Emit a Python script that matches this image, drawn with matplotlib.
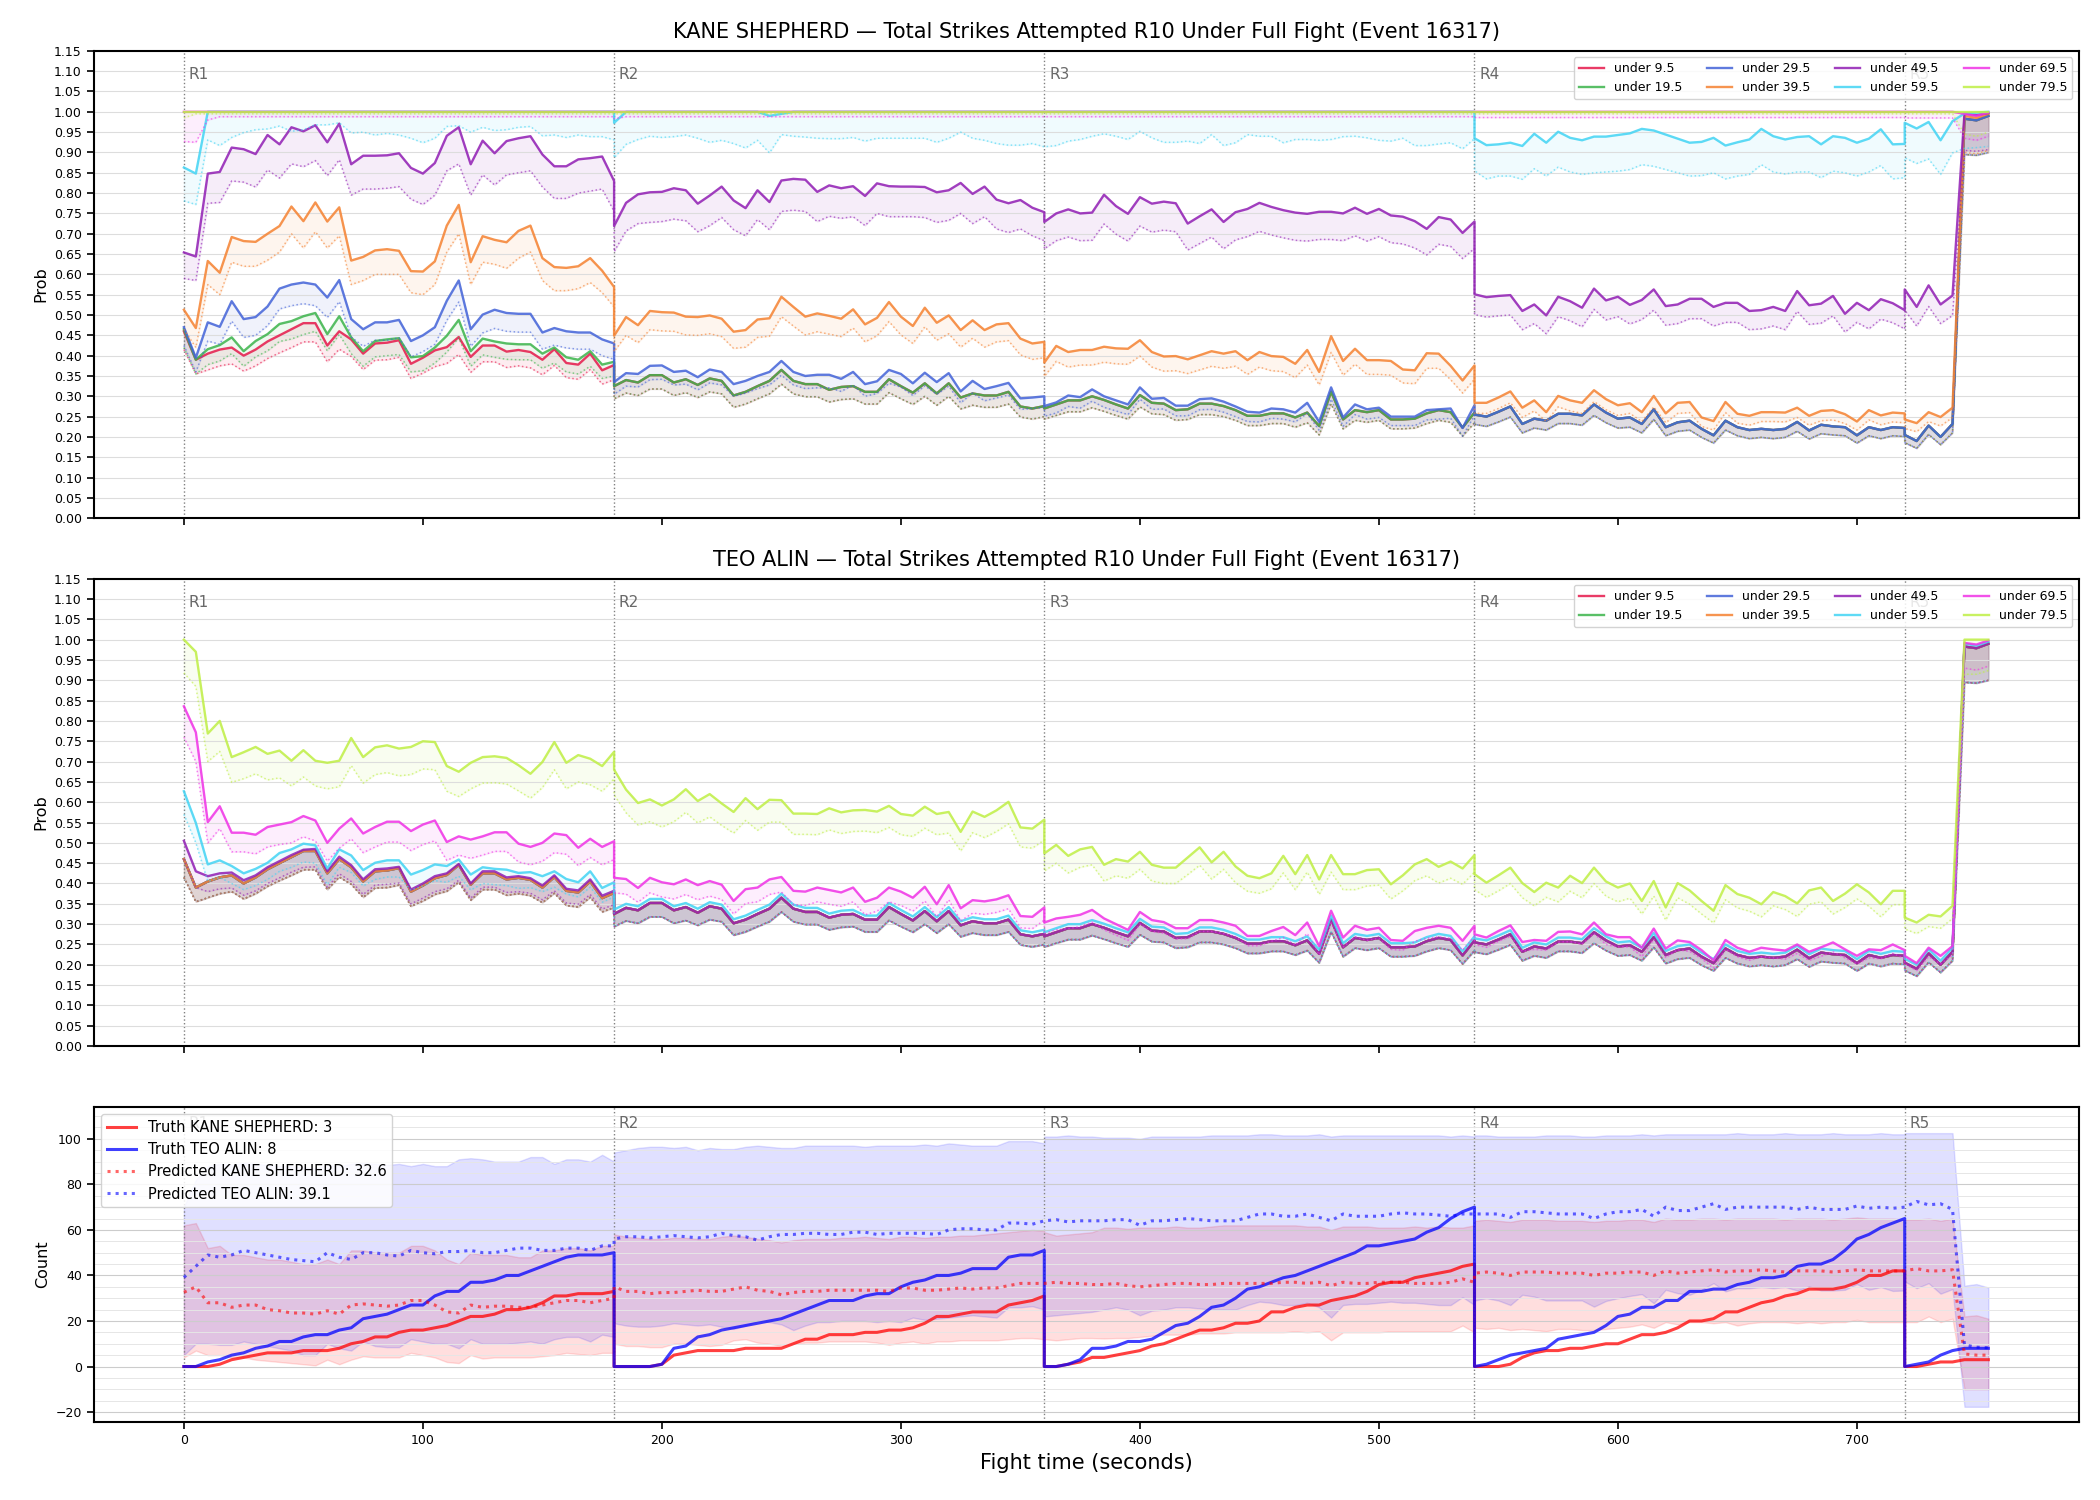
import numpy as np
import matplotlib.pyplot as plt
from matplotlib.ticker import MultipleLocator, FormatStrFormatter

kane = "KANE SHEPHERD"
teo = "TEO ALIN"
event = 16317

# 5 s samples, each round re-starts on the boundary second (hence the vertical jumps)
round_starts = [0, 180, 360, 540, 720]
round_ends = [180, 360, 540, 720, 755]
t = np.concatenate([np.arange(a, b + 1, 5) for a, b in zip(round_starts, round_ends)])

line_labels = ["under 9.5", "under 19.5", "under 29.5", "under 39.5",
               "under 49.5", "under 59.5", "under 69.5", "under 79.5"]
line_colors = ["#e6194b", "#3cb44b", "#4363d8", "#f58231",
               "#911eb4", "#42d4f4", "#f032e6", "#bfef45"]


def flat(rounds):
    return np.concatenate([np.asarray(r, dtype=float) for r in rounds])


# ---- probability lines, one list per round (R1..R5) ----
# under 9.5 -- same curve in both panels; TEO's 19.5-49.5 sit on it too
base_hi = [
    [.46, .39, .405, .415, .42, .40, .415, .435, .45, .465, .48, .48, .425, .46, .44, .405, .43, .432, .438,
     .38, .395, .413, .421, .446, .397, .425, .425, .41, .414, .409, .39, .416, .382, .378, .405, .364, .377],
    [.325, .34, .334, .352, .352, .334, .342, .328, .344, .338, .302, .311, .325, .338, .365, .338, .33, .33,
     .316, .323, .325, .311, .311, .342, .325, .309, .332, .307, .332, .297, .307, .302, .302, .311, .275, .27, .276],
    [.27, .28, .29, .29, .30, .291, .28, .27, .303, .284, .282, .266, .268, .282, .282, .276, .266, .252, .252,
     .258, .258, .248, .26, .227, .311, .243, .266, .261, .266, .243, .243, .245, .258, .266, .261, .223, .26],
    [.255, .25, .262, .275, .232, .245, .24, .257, .257, .253, .28, .26, .245, .248, .232, .268, .224, .236, .24,
     .22, .204, .24, .224, .217, .22, .217, .22, .237, .216, .23, .226, .224, .204, .224, .217, .224, .222],
    [.205, .19, .228, .2, .232, .983, .979, .99],
]
base_lo = [
    [.415, .355, .365, .375, .38, .362, .375, .393, .407, .42, .434, .434, .385, .416, .398, .366, .389, .39, .396,
     .344, .357, .373, .381, .403, .359, .385, .385, .371, .375, .37, .353, .376, .346, .342, .366, .33, .341],
    [.294, .308, .302, .318, .318, .302, .309, .297, .311, .306, .273, .281, .294, .306, .33, .306, .299, .299,
     .286, .292, .294, .281, .281, .309, .294, .28, .3, .278, .3, .269, .278, .273, .273, .281, .249, .244, .25],
    [.244, .253, .262, .262, .272, .263, .253, .244, .274, .257, .255, .241, .243, .255, .255, .25, .241, .228,
     .228, .233, .233, .224, .235, .205, .281, .22, .241, .236, .241, .22, .22, .222, .233, .241, .236, .202, .235],
    [.231, .226, .237, .249, .21, .222, .217, .233, .233, .229, .253, .235, .222, .224, .21, .243, .203, .214,
     .217, .199, .185, .217, .203, .196, .199, .196, .199, .214, .195, .208, .205, .203, .185, .203, .196, .203, .201],
    [.186, .172, .206, .181, .21, .895, .893, .9],
]

# KANE under 19.5: apart from R1 it lies on the 9.5 curve
k195_hi_r1 = [.465, .39, .416, .426, .445, .411, .436, .453, .478, .485, .497, .505, .453, .497, .445, .411, .436,
              .44, .443, .396, .399, .42, .449, .488, .411, .442, .435, .43, .428, .428, .405, .42, .396, .39,
              .411, .378, .385]
k195_lo_r1 = [.42, .355, .378, .387, .405, .374, .397, .412, .435, .441, .452, .46, .412, .452, .405, .374, .397,
              .40, .403, .36, .363, .382, .409, .444, .374, .402, .396, .391, .39, .39, .369, .382, .36, .355,
              .374, .344, .35]

# KANE under 29.5: R1-R3 read, R4-R5 on the 9.5 curve
k295_hi = [
    [.47, .395, .482, .471, .534, .49, .495, .521, .565, .575, .58, .575, .543, .586, .49, .465, .482, .482, .488,
     .436, .45, .47, .535, .585, .465, .501, .513, .505, .503, .503, .457, .468, .46, .457, .457, .44, .43],
    [.335, .357, .355, .375, .376, .36, .363, .347, .366, .36, .33, .338, .35, .36, .387, .36, .35, .353, .353,
     .343, .36, .33, .337, .365, .355, .332, .358, .335, .357, .312, .338, .318, .325, .333, .295, .297, .30],
    [.276, .285, .302, .298, .317, .30, .29, .28, .322, .294, .296, .277, .277, .293, .295, .287, .275, .262, .26,
     .27, .268, .26, .284, .237, .322, .248, .28, .268, .272, .25, .25, .25, .266, .268, .27, .222, .278],
]
k295_lo = [
    [.425, .36, .436, .428, .485, .445, .45, .474, .515, .523, .528, .523, .494, .533, .446, .423, .438, .438,
     .444, .397, .41, .428, .487, .532, .423, .456, .467, .46, .458, .458, .416, .426, .419, .416, .416, .40, .391],
    [.305, .325, .323, .341, .342, .328, .33, .316, .333, .328, .30, .308, .319, .328, .352, .328, .319, .321,
     .321, .312, .328, .30, .307, .332, .323, .302, .326, .305, .325, .284, .308, .289, .296, .303, .268, .27, .273],
    [.251, .259, .275, .271, .288, .273, .264, .255, .293, .268, .269, .252, .252, .267, .268, .261, .25, .238,
     .237, .246, .244, .237, .258, .216, .293, .226, .255, .244, .248, .228, .228, .228, .242, .244, .246, .202, .253],
]

k395_hi = [
    [.513, .468, .633, .604, .692, .682, .68, .70, .719, .767, .731, .777, .73, .765, .634, .643, .659, .662, .658,
     .608, .607, .632, .72, .771, .63, .694, .685, .679, .707, .72, .64, .618, .616, .62, .64, .609, .569],
    [.449, .495, .475, .51, .507, .506, .496, .495, .499, .491, .459, .463, .489, .492, .545, .52, .496, .504,
     .498, .491, .514, .477, .493, .532, .496, .473, .518, .481, .499, .463, .487, .463, .477, .48, .442, .43, .434],
    [.383, .424, .409, .414, .414, .422, .418, .417, .438, .409, .398, .399, .391, .401, .411, .405, .411, .389,
     .409, .399, .397, .38, .414, .36, .448, .387, .417, .389, .389, .387, .366, .364, .406, .405, .375, .339, .376],
    [.284, .284, .297, .312, .272, .29, .261, .301, .29, .284, .315, .293, .278, .283, .261, .301, .258, .284,
     .286, .248, .239, .286, .257, .252, .261, .261, .26, .272, .252, .264, .266, .256, .238, .266, .253, .26, .258],
    [.243, .234, .261, .249, .272, .99, .985, .995],
]
k395_lo = [
    [.465, .42, .575, .55, .63, .62, .62, .635, .655, .70, .665, .705, .665, .695, .575, .585, .60, .60, .60,
     .555, .55, .575, .655, .70, .575, .63, .625, .615, .64, .655, .585, .56, .56, .565, .58, .555, .52],
    [.41, .45, .432, .464, .461, .46, .451, .45, .454, .447, .418, .421, .445, .448, .496, .473, .451, .459,
     .453, .447, .468, .434, .449, .484, .451, .43, .471, .438, .454, .421, .443, .421, .434, .437, .402, .391, .395],
    [.349, .386, .372, .377, .377, .384, .38, .379, .399, .372, .362, .363, .356, .365, .374, .369, .374, .354,
     .372, .363, .361, .346, .377, .328, .408, .352, .379, .354, .354, .352, .333, .331, .369, .369, .341, .308, .342],
    [.258, .258, .27, .284, .248, .264, .238, .274, .264, .258, .287, .267, .253, .258, .238, .274, .235, .258,
     .26, .226, .217, .26, .234, .229, .238, .238, .237, .248, .229, .24, .242, .233, .217, .242, .23, .237, .235],
    [.221, .213, .238, .227, .248, .90, .897, .905],
]

k495_hi = [
    [.654, .644, .848, .852, .912, .908, .896, .943, .92, .962, .952, .967, .925, .971, .871, .892, .892, .893,
     .898, .862, .848, .874, .941, .962, .871, .929, .898, .928, .935, .94, .895, .866, .866, .883, .886, .89, .83],
    [.719, .776, .797, .802, .803, .812, .807, .774, .794, .816, .782, .763, .807, .778, .831, .835, .833, .803,
     .819, .812, .817, .793, .824, .817, .816, .816, .815, .802, .807, .825, .798, .816, .784, .775, .783, .764, .753],
    [.729, .75, .76, .75, .752, .796, .768, .749, .79, .774, .779, .775, .725, .743, .76, .729, .753, .761, .776,
     .766, .758, .752, .749, .754, .754, .75, .764, .749, .761, .745, .742, .731, .712, .741, .735, .702, .73],
    [.551, .544, .547, .549, .51, .526, .499, .545, .534, .518, .565, .536, .545, .525, .537, .563, .522, .526,
     .54, .54, .52, .53, .53, .51, .512, .52, .51, .559, .524, .528, .547, .503, .53, .512, .539, .529, .512],
    [.563, .52, .573, .526, .548, .996, .992, .997],
]
k495_lo = [
    [.59, .585, .775, .777, .83, .827, .815, .857, .837, .872, .865, .88, .843, .882, .795, .81, .81, .812, .816,
     .785, .772, .795, .855, .872, .795, .845, .82, .845, .85, .855, .815, .787, .787, .80, .805, .81, .755],
    [.656, .707, .725, .728, .73, .736, .732, .705, .72, .74, .71, .695, .735, .71, .755, .758, .755, .73, .743,
     .738, .742, .72, .75, .742, .742, .742, .74, .728, .733, .75, .725, .742, .712, .703, .712, .695, .683],
    [.663, .683, .692, .683, .684, .724, .699, .682, .719, .704, .709, .705, .66, .676, .692, .663, .685, .693,
     .706, .697, .69, .684, .682, .686, .686, .683, .695, .682, .693, .678, .675, .665, .648, .674, .669, .639, .664],
    [.501, .495, .498, .50, .464, .479, .454, .496, .486, .471, .514, .488, .496, .478, .489, .512, .475, .479,
     .491, .491, .473, .482, .482, .464, .466, .473, .464, .509, .477, .48, .498, .458, .482, .466, .49, .481, .466],
    [.512, .473, .521, .479, .499, .905, .903, .907],
]

k595_hi = [
    [.863, .848] + [1.0] * 35,
    [.973] + [1.0] * 12 + [.99, .995] + [1.0] * 22,
    [1.0] * 37,
    [.935, .918, .92, .924, .916, .946, .924, .951, .936, .93, .939, .939, .943, .947, .958, .954, .944, .934,
     .924, .926, .936, .917, .925, .932, .958, .94, .932, .938, .94, .92, .94, .936, .924, .934, .957, .92, .921],
    [.973, .959, .975, .93, .977, .996, .998, 1.0],
]
k595_lo = [
    [.781, .772, .931, .917, .937, .949, .956, .958, .965, .952, .956, .968, .968, .973, .948, .95, .943, .947,
     .943, .935, .924, .935, .964, .966, .95, .962, .954, .956, .962, .964, .941, .943, .937, .943, .939, .939, .931],
    [.887, .92, .932, .94, .937, .939, .943, .935, .925, .93, .922, .911, .93, .899, .944, .94, .938, .935, .934,
     .934, .937, .928, .935, .935, .935, .935, .935, .925, .935, .95, .935, .93, .922, .918, .918, .922, .914],
    [.914, .917, .928, .932, .94, .946, .94, .932, .952, .936, .925, .925, .928, .922, .944, .917, .924, .944,
     .94, .94, .924, .932, .932, .93, .932, .939, .94, .936, .93, .928, .935, .917, .917, .921, .924, .909, .934],
    [.855, .835, .842, .842, .834, .86, .842, .864, .852, .846, .85, .852, .854, .858, .87, .866, .858, .85,
     .842, .843, .85, .835, .842, .846, .87, .852, .847, .852, .852, .838, .854, .85, .842, .852, .868, .835, .838],
    [.887, .873, .884, .846, .899, .91, .912, .915],
]

k695_hi = [[1.0] * 37, [1.0] * 37, [1.0] * 37, [1.0] * 37, [1.0] * 5 + [.995, .99, .998]]
k695_lo = [[.927, .925, .98] + [.988] * 34, [.983] + [.988] * 36, [.988] * 37, [.986] * 37,
           [.985] * 5 + [.935, .93, .94]]
k795_hi = [[1.0] * 37, [1.0] * 37, [1.0] * 37, [1.0] * 37, [1.0] * 8]
k795_lo = [[.985] + [.995] * 36, [.995] * 37, [.995] * 37, [.995] * 37, [.995] * 5 + [.945, .94, .95]]

# TEO under 49.5: own R1, then on the 9.5 curve
t495_hi_r1 = [.505, .43, .418, .425, .427, .408, .42, .44, .455, .47, .483, .485, .43, .466, .445, .41, .435,
              .437, .441, .385, .40, .418, .425, .448, .40, .43, .43, .415, .418, .413, .395, .42, .387, .383,
              .41, .37, .382]
t495_lo_r1 = [.46, .39, .38, .387, .389, .371, .382, .40, .414, .428, .44, .441, .391, .424, .405, .373, .396,
              .398, .401, .35, .364, .38, .387, .408, .364, .391, .391, .378, .38, .376, .36, .382, .352, .349,
              .373, .337, .348]

t595_hi = [
    [.627, .549, .447, .457, .443, .425, .436, .451, .475, .484, .498, .494, .437, .484, .469, .433, .451, .457,
     .457, .422, .433, .447, .443, .459, .422, .44, .436, .434, .426, .428, .418, .43, .411, .403, .43, .389, .403],
    [.336, .35, .344, .362, .362, .344, .352, .338, .354, .348, .312, .321, .335, .348, .375, .348, .34, .34,
     .326, .333, .335, .321, .321, .352, .335, .319, .342, .317, .342, .307, .317, .312, .312, .321, .285, .28, .286],
    [.28, .29, .30, .30, .31, .301, .29, .28, .313, .294, .292, .276, .278, .292, .292, .286, .276, .262, .262,
     .268, .268, .258, .27, .237, .321, .253, .276, .271, .276, .253, .253, .255, .268, .276, .271, .233, .27],
    [.265, .26, .272, .285, .242, .255, .25, .267, .267, .263, .29, .27, .255, .258, .242, .278, .234, .246,
     .25, .23, .214, .25, .234, .227, .23, .227, .23, .247, .226, .24, .236, .234, .214, .234, .227, .234, .232],
    [.215, .20, .238, .21, .242, .99, .985, .995],
]
t595_lo_r1 = [.57, .50, .405, .415, .40, .385, .395, .41, .43, .44, .453, .45, .397, .44, .427, .394, .41, .416,
              .416, .384, .394, .407, .403, .418, .384, .40, .397, .395, .388, .39, .38, .391, .374, .367, .391,
              .354, .367]

t695_hi = [
    [.836, .772, .551, .59, .525, .525, .52, .539, .545, .551, .566, .555, .50, .535, .56, .523, .539, .552,
     .552, .529, .545, .555, .502, .516, .508, .516, .526, .526, .498, .49, .50, .523, .519, .488, .51, .49, .504],
    [.414, .411, .389, .414, .403, .398, .41, .396, .406, .397, .357, .386, .39, .41, .416, .382, .38, .39, .384,
     .378, .39, .355, .365, .39, .38, .365, .392, .349, .396, .339, .359, .356, .361, .371, .32, .318, .341],
    [.304, .314, .318, .323, .335, .314, .30, .286, .33, .31, .305, .29, .29, .31, .31, .304, .296, .271, .271,
     .283, .293, .273, .304, .246, .333, .267, .296, .286, .291, .261, .259, .283, .291, .296, .291, .259, .296],
    [.275, .267, .283, .297, .256, .261, .259, .281, .282, .275, .304, .275, .268, .268, .242, .289, .24, .26,
     .256, .236, .211, .261, .242, .232, .242, .238, .235, .25, .232, .243, .255, .238, .222, .238, .236, .25, .236],
    [.222, .204, .242, .222, .246, .992, .988, .998],
]
t695_lo = [
    [.76, .70, .50, .535, .478, .478, .473, .49, .496, .50, .515, .505, .455, .487, .51, .476, .49, .502, .502,
     .481, .496, .505, .457, .47, .462, .47, .479, .479, .453, .446, .455, .476, .472, .444, .464, .446, .459],
    [.377, .374, .354, .377, .367, .362, .373, .36, .369, .361, .325, .351, .355, .373, .379, .348, .346, .355,
     .349, .344, .355, .323, .332, .355, .346, .332, .357, .318, .36, .308, .327, .324, .329, .338, .291, .289, .31],
    [.277, .286, .289, .294, .305, .286, .273, .26, .30, .282, .278, .264, .264, .282, .282, .277, .269, .247,
     .247, .258, .267, .248, .277, .224, .303, .243, .269, .26, .265, .238, .236, .258, .265, .269, .265, .236, .269],
    [.25, .243, .258, .27, .233, .238, .236, .256, .257, .25, .277, .25, .244, .244, .22, .263, .218, .237,
     .233, .215, .192, .238, .22, .211, .22, .217, .214, .228, .211, .221, .232, .217, .202, .217, .215, .228, .215],
    [.202, .186, .22, .202, .224, .93, .925, .935],
]

t795_hi = [
    [1.0, .97, .769, .80, .711, .723, .736, .719, .727, .702, .728, .702, .697, .702, .758, .711, .735, .74, .732,
     .736, .75, .748, .689, .675, .697, .711, .713, .709, .691, .67, .699, .748, .697, .716, .707, .689, .724],
    [.68, .631, .598, .607, .592, .607, .632, .603, .62, .597, .576, .61, .583, .606, .605, .572, .572, .571,
     .585, .575, .58, .581, .577, .591, .571, .567, .589, .571, .576, .527, .577, .564, .58, .601, .538, .535, .557],
    [.474, .495, .468, .484, .49, .446, .46, .454, .478, .446, .439, .439, .464, .489, .452, .478, .442, .419,
     .413, .425, .468, .423, .47, .41, .47, .423, .423, .433, .435, .398, .42, .447, .46, .441, .454, .437, .47],
    [.423, .402, .42, .439, .401, .379, .402, .39, .419, .401, .439, .405, .39, .40, .357, .406, .341, .401,
     .383, .357, .333, .396, .374, .365, .349, .379, .369, .351, .383, .39, .357, .375, .398, .378, .349, .382, .382],
    [.316, .304, .323, .319, .345, 1.0, 1.0, 1.0],
]
t795_lo = [
    [.918, .885, .70, .725, .649, .658, .67, .655, .66, .64, .662, .64, .633, .638, .69, .647, .668, .673, .665,
     .668, .682, .68, .627, .614, .633, .647, .648, .645, .628, .61, .636, .68, .633, .65, .643, .627, .658],
    [.618, .574, .544, .552, .539, .552, .575, .549, .564, .543, .524, .555, .531, .551, .551, .521, .521, .52,
     .532, .523, .528, .529, .525, .538, .52, .516, .536, .52, .524, .48, .525, .513, .528, .547, .49, .487, .507],
    [.431, .45, .426, .44, .446, .406, .419, .413, .435, .406, .40, .40, .422, .445, .411, .435, .402, .381,
     .376, .387, .426, .385, .428, .373, .428, .385, .385, .394, .396, .362, .382, .407, .419, .401, .413, .398, .428],
    [.385, .366, .382, .40, .365, .345, .366, .355, .381, .365, .40, .369, .355, .364, .325, .369, .31, .365,
     .349, .325, .303, .36, .34, .332, .318, .345, .336, .319, .349, .355, .325, .341, .362, .344, .318, .348, .348],
    [.288, .277, .294, .29, .314, .915, .915, .924],
]

# ---- counts panel ----
kane_truth = [
    [0, 0, 0, 1, 3, 4, 5, 6, 6, 6, 7, 7, 7, 8, 10, 11, 13, 13, 15, 16, 16, 17, 18, 20, 22, 22, 23, 25, 25, 26,
     28, 31, 31, 32, 32, 32, 33],
    [0, 0, 0, 0, 1, 5, 6, 7, 7, 7, 7, 8, 8, 8, 8, 10, 12, 12, 14, 14, 14, 15, 15, 16, 16, 17, 19, 22, 22, 23,
     24, 24, 24, 27, 28, 29, 31],
    [0, 0, 1, 2, 4, 4, 5, 6, 7, 9, 10, 12, 14, 16, 16, 17, 19, 19, 20, 24, 24, 26, 27, 27, 29, 30, 31, 33, 36,
     37, 37, 39, 40, 41, 42, 44, 45],
    [0, 0, 0, 1, 4, 6, 7, 7, 8, 8, 9, 10, 10, 12, 14, 14, 15, 17, 20, 20, 21, 24, 24, 26, 28, 29, 31, 32, 34,
     34, 34, 35, 37, 40, 40, 42, 42],
    [0, 0, 1, 2, 2, 3, 3, 3],
]
teo_truth = [
    [0, 0, 2, 3, 5, 6, 8, 9, 11, 11, 13, 14, 14, 16, 17, 21, 22, 23, 25, 27, 27, 31, 33, 33, 37, 37, 38, 40, 40,
     42, 44, 46, 48, 49, 49, 49, 50],
    [0, 0, 0, 0, 1, 8, 9, 13, 14, 16, 17, 18, 19, 20, 21, 23, 25, 27, 29, 29, 29, 31, 32, 32, 35, 37, 38, 40, 40,
     41, 43, 43, 43, 48, 49, 49, 51],
    [0, 0, 1, 3, 8, 8, 9, 11, 11, 12, 15, 18, 19, 22, 26, 27, 30, 34, 35, 37, 39, 40, 42, 44, 46, 48, 50, 53, 53,
     54, 55, 56, 59, 61, 65, 68, 70],
    [0, 1, 3, 5, 6, 7, 8, 12, 13, 14, 15, 18, 22, 23, 26, 26, 29, 29, 33, 33, 34, 34, 36, 37, 39, 39, 40, 44, 45,
     45, 47, 51, 56, 58, 61, 63, 65],
    [0, 1, 2, 5, 7, 8, 8, 8],
]
kane_pred = [
    [32.6, 35, 28, 28, 26, 27, 27, 25, 24.5, 23.5, 23.5, 23, 24.5, 23, 27, 27.5, 27, 26.5, 27, 29, 29, 27, 24,
     23.5, 27, 26, 26.5, 26.5, 26, 26, 27, 28, 29, 29, 28, 29, 30],
    [35, 33, 33, 32, 32.5, 32.5, 33, 33.5, 33, 33, 34, 35, 33.5, 33, 31.5, 32.5, 33, 33, 33.5, 33.5, 33.5, 33.5,
     33.5, 33, 34.5, 34.5, 33.5, 33.5, 34, 34.5, 34, 34.5, 34.5, 35.5, 36.5, 36.5, 36.5],
    [36.5, 37, 36.5, 36.5, 36, 36, 36.5, 35.5, 35, 35.5, 36, 36.5, 36.5, 36, 36, 36.5, 36.5, 36.5, 36.5, 36.5,
     37, 37, 36.5, 37, 35.5, 37, 36.5, 36.5, 37, 37, 37, 36.5, 36.5, 36.5, 37, 38.5, 37],
    [41, 41.5, 41, 40, 41.5, 41.5, 41.5, 41, 41, 41, 40, 41, 41, 41.5, 41.5, 40, 42, 41, 41.5, 42, 42.5, 41.5,
     42, 42, 42.5, 42, 41.5, 42, 42, 42, 41.5, 42, 42.5, 42, 42, 42, 42],
    [42, 43, 42, 42, 42.5, 5.5, 5, 5],
]
teo_pred = [
    [39.1, 44, 49, 48, 49, 51, 50, 49, 48, 47, 46.5, 46, 50, 48, 47, 50, 50, 49, 48.5, 51, 50, 49.5, 50.5, 50.5,
     51, 50, 50, 51, 52, 52, 51, 51, 52, 52, 51, 53, 53],
    [56, 57, 57, 56.5, 57, 57.5, 57, 56.5, 57, 58.5, 57.5, 57, 55.5, 57, 58, 58, 58.5, 58.5, 58, 58, 59, 59, 58,
     58.5, 58.5, 58.5, 58.5, 58, 60, 60.5, 60.5, 60, 60, 63, 63, 62.5, 64],
    [64, 64.5, 63.5, 64, 64, 64, 64.5, 64.5, 62, 64, 64, 64.5, 65, 64.5, 64, 64, 64, 65.5, 67, 67, 66, 66, 67,
     65.5, 64, 67, 66, 66, 66, 67, 67.5, 67, 67, 66.5, 66, 67, 67],
    [67, 67, 67, 65.5, 68, 68, 67.5, 67, 67, 67, 65, 67, 68, 68, 69, 66, 70, 68.5, 68.5, 70, 71.5, 69, 70, 70,
     70, 70, 70, 69, 70, 69, 69, 69, 70.5, 69.5, 70, 69.5, 70],
    [70, 72.5, 71, 71.5, 69, 9.5, 8.5, 8.2],
]
kane_band_hi = [
    [62, 63, 52, 53, 49, 49, 48, 47, 47, 46, 45, 45, 47, 45, 51, 51, 50, 50, 50, 53, 53, 51, 47, 45, 50, 49, 49,
     49, 48, 48, 51, 51, 52, 52, 51, 53, 53],
    [58, 57, 56.5, 56, 56, 56.5, 56.5, 56, 56, 57, 57.5, 57, 56, 55.5, 54.5, 55.5, 56, 56, 56, 56.5, 56.5, 57,
     56.5, 56, 57, 57, 56.5, 57, 57, 57.5, 57.5, 58, 58.5, 59, 59.5, 60, 59.5],
    [59, 57.5, 58, 58.5, 59, 61, 61, 60.5, 61, 61, 61, 61.5, 61, 61, 61.5, 62, 62, 62, 62, 62, 62, 62, 61.5,
     61.5, 60, 61.5, 61.5, 61.5, 61, 61, 61, 61.5, 61, 61.5, 61, 61, 62],
    [64, 64.5, 64, 63.5, 64.5, 64.5, 64.5, 64, 64, 64, 63.5, 64, 64, 64.5, 64.5, 63.5, 65, 64.5, 64.5, 65, 65,
     64.5, 65, 65, 65, 65, 64.5, 65, 65, 65, 64.5, 65, 65.5, 65, 65, 65, 64.5],
    [64.5, 64.5, 65, 64, 65, 22, 22.5, 21],
]
kane_band_lo = [
    [4, 7, 5, 5, 4, 4, 3, 2.5, 2, 1.5, 1, 0.5, 3, 1, 3, 4.5, 4, 4, 4, 6, 5, 4, 2, 1.5, 5, 3.5, 4, 4, 4, 4, 4.5,
     5, 6, 5.5, 5, 6, 6],
    [10, 9, 9, 8.5, 8.5, 10, 10, 9.5, 9, 9.5, 11.5, 12, 10.5, 10, 9, 10, 10.5, 10.5, 11, 11, 11, 11, 10.5, 9.5,
     10.5, 11, 10, 11, 11, 11.5, 11.5, 11.5, 11.5, 12, 12.5, 12.5, 12],
    [12, 11.5, 12, 12.5, 12.5, 12.3, 12.5, 12.5, 13, 13.5, 14, 14, 14, 14.5, 14.5, 14.5, 15, 15, 15, 15, 15, 15.5,
     15, 15.5, 11.5, 15, 15, 15, 15, 15.5, 15.5, 15.5, 15.5, 15.5, 15.5, 18, 15],
    [17, 16.5, 17, 16, 16.5, 16, 15.5, 16.5, 16.5, 16, 16, 16.5, 17, 17.5, 18.5, 17, 19.5, 18.5, 19.5, 19.5, 19,
     19.5, 18, 19, 19.5, 19.5, 19.5, 19, 19.5, 19, 19.5, 19.5, 20.5, 19.5, 19.5, 19.5, 19.5],
    [19.5, 19.5, 22, 19.5, 21, -10, -10, -10],
]
teo_band_hi = [
    [70, 82, 88, 89, 88.5, 89.5, 89, 88.5, 88, 88, 87.5, 87, 88.5, 88, 89, 89.5, 89, 88.5, 89, 88, 89, 88, 88,
     91, 91.5, 91, 90, 90, 90, 92, 92, 89, 91, 91, 90, 93, 90],
    [94, 95, 96, 96.5, 96.5, 96, 96.5, 95, 96, 95.5, 95.5, 96.5, 97, 96.5, 96, 96, 97, 97, 97, 97, 97, 96.5, 97,
     97, 97, 97, 97.5, 97, 98, 97.5, 97, 97, 97, 99, 99, 99, 98],
    [101, 101, 101.5, 101, 101, 100.5, 100.5, 100.5, 100, 101, 101, 101, 101, 101, 101.5, 101.5, 101.5, 101.5,
     102, 102, 101.5, 101.5, 101.5, 102, 101, 101.5, 101.5, 101.5, 101.5, 101.5, 101.5, 101.5, 101.5, 101.5,
     101, 101.5, 101],
    [101.5, 101.5, 101, 101, 101, 101, 101.5, 101.5, 101.5, 101, 101, 101.5, 101.5, 101.5, 102, 101.5, 102, 102,
     102, 102, 102, 102, 102.5, 102, 102, 102, 102.5, 102, 102, 102, 102.5, 102, 102, 102, 102.5, 102, 102],
    [102.5, 102.5, 102.5, 102.5, 102.5, 35.5, 36.2, 34.7],
]
teo_band_lo = [
    [5, 10, 10, 9.5, 9.5, 11, 10, 9, 8, 7, 5, 5, 10, 8, 7, 11, 9, 8.5, 8.5, 12, 11, 10, 10, 8, 12, 10, 10, 10,
     10.5, 11, 10, 12, 13, 13, 11, 14, 13],
    [19, 18, 17.5, 17.5, 18, 19, 18.5, 18, 18.5, 17.5, 16.5, 18, 20, 19.5, 18.5, 16, 18, 19.5, 19.5, 20, 20, 20,
     19.5, 20, 19.5, 21.5, 20.5, 21, 21.5, 22, 22.5, 22, 21.5, 26, 26, 26.5, 25],
    [22, 22.5, 23, 23.5, 24, 25, 26, 25, 22.5, 24.5, 25, 26, 26, 25.5, 25, 25, 25, 27, 28.5, 28, 27, 27, 28, 26,
     21.5, 27, 27.5, 27.5, 28, 28.5, 28, 28, 27.5, 27, 27, 30.5, 27],
    [29, 30, 29, 27, 31.5, 30.7, 29, 29, 29, 29, 26.3, 28.8, 30, 31, 31.8, 27.8, 33.7, 32.2, 31.5, 33.7, 36.6, 33,
     34.4, 34.4, 34.9, 34.4, 34.9, 33.4, 35.2, 33.4, 33.4, 33.7, 36.2, 33.7, 34.9, 33.2, 33.4],
    [37.4, 34.4, 36.6, 32, 34, -17.7, -17.7, -17.7],
]

# assemble (hi, lo) pairs per panel, in legend order
kane_lines = [
    (flat(base_hi), flat(base_lo)),
    (flat([k195_hi_r1] + base_hi[1:]), flat([k195_lo_r1] + base_lo[1:])),
    (flat(k295_hi + base_hi[3:]), flat(k295_lo + base_lo[3:])),
    (flat(k395_hi), flat(k395_lo)),
    (flat(k495_hi), flat(k495_lo)),
    (flat(k595_hi), flat(k595_lo)),
    (flat(k695_hi), flat(k695_lo)),
    (flat(k795_hi), flat(k795_lo)),
]
teo_lines = [
    (flat(base_hi), flat(base_lo)),
    (flat(base_hi), flat(base_lo)),
    (flat(base_hi), flat(base_lo)),
    (flat(base_hi), flat(base_lo)),
    (flat([t495_hi_r1] + base_hi[1:]), flat([t495_lo_r1] + base_lo[1:])),
    (flat(t595_hi), flat([t595_lo_r1] + base_lo[1:])),
    (flat(t695_hi), flat(t695_lo)),
    (flat(t795_hi), flat(t795_lo)),
]

plt.rcParams["axes.linewidth"] = 1.5
plt.rcParams["xtick.labelsize"] = 9
plt.rcParams["ytick.labelsize"] = 9

fig, axes = plt.subplots(3, 1, figsize=(21, 15), dpi=100, sharex=True,
                         gridspec_kw={"height_ratios": [1.48, 1.48, 1]})
fig.subplots_adjust(left=0.0446, right=0.9898, top=0.9661, bottom=0.0518, hspace=0.145)


def mark_rounds(ax):
    top = ax.get_ylim()[1] * 0.965
    for i, s in enumerate(round_starts):
        ax.axvline(s, color="gray", ls=":", lw=1.0, zorder=1)
        ax.text(s + 2, top, f"R{i + 1}", ha="left", va="top", color="dimgray", fontsize=11)


def prob_panel(ax, lines, name):
    for label, color, (hi, lo) in zip(line_labels, line_colors, lines):
        ax.fill_between(t, lo, hi, color=color, alpha=0.08)
        ax.plot(t, lo, color=color, ls=":", lw=1.1, alpha=0.6)
        ax.plot(t, hi, color=color, lw=1.7, alpha=0.85, label=label)
    ax.set_ylim(0, 1.15)
    ax.set_yticks(np.arange(0, 1.151, 0.05))
    ax.yaxis.set_major_formatter(FormatStrFormatter("%.2f"))
    ax.grid(axis="y", color="#dddddd", lw=0.8)
    ax.set_ylabel("Prob", fontsize=11.5)
    ax.set_title(f"{name} — Total Strikes Attempted R10 Under Full Fight (Event {event})",
                 fontsize=15, pad=9)
    mark_rounds(ax)
    ax.legend(loc="upper right", ncol=4, fontsize=9, framealpha=0.85)


prob_panel(axes[0], kane_lines, kane)
prob_panel(axes[1], teo_lines, teo)

ax = axes[2]
kt, tt = flat(kane_truth), flat(teo_truth)
kp, tp = flat(kane_pred), flat(teo_pred)
ax.fill_between(t, flat(kane_band_lo), flat(kane_band_hi), color="red", alpha=0.13)
ax.fill_between(t, flat(teo_band_lo), flat(teo_band_hi), color="blue", alpha=0.12)
ax.plot(t, kt, color="red", lw=2.2, alpha=0.75, label=f"Truth {kane}: {kt[-1]:.0f}")
ax.plot(t, tt, color="blue", lw=2.2, alpha=0.75, label=f"Truth {teo}: {tt[-1]:.0f}")
ax.plot(t, kp, color="red", ls=":", lw=2.2, alpha=0.6, label=f"Predicted {kane}: {kp[0]:.1f}")
ax.plot(t, tp, color="blue", ls=":", lw=2.2, alpha=0.6, label=f"Predicted {teo}: {tp[0]:.1f}")
ax.set_ylim(-24.5, 114.2)
ax.yaxis.set_major_locator(MultipleLocator(20))
ax.yaxis.set_minor_locator(MultipleLocator(5))
ax.tick_params(axis="y", which="minor", length=0)
ax.grid(axis="y", which="major", color="#cccccc", lw=0.8)
ax.grid(axis="y", which="minor", color="#e6e6e6", lw=0.7)
ax.set_ylabel("Count", fontsize=11.5)
ax.set_xlabel("Fight time (seconds)", fontsize=15)
mark_rounds(ax)
ax.legend(loc="upper left", fontsize=10.5, framealpha=0.85)

for a in axes:
    a.tick_params(length=5, width=1.2)
ax.set_xlim(-37.75, 792.75)

fig.savefig("out.png", dpi=100)
